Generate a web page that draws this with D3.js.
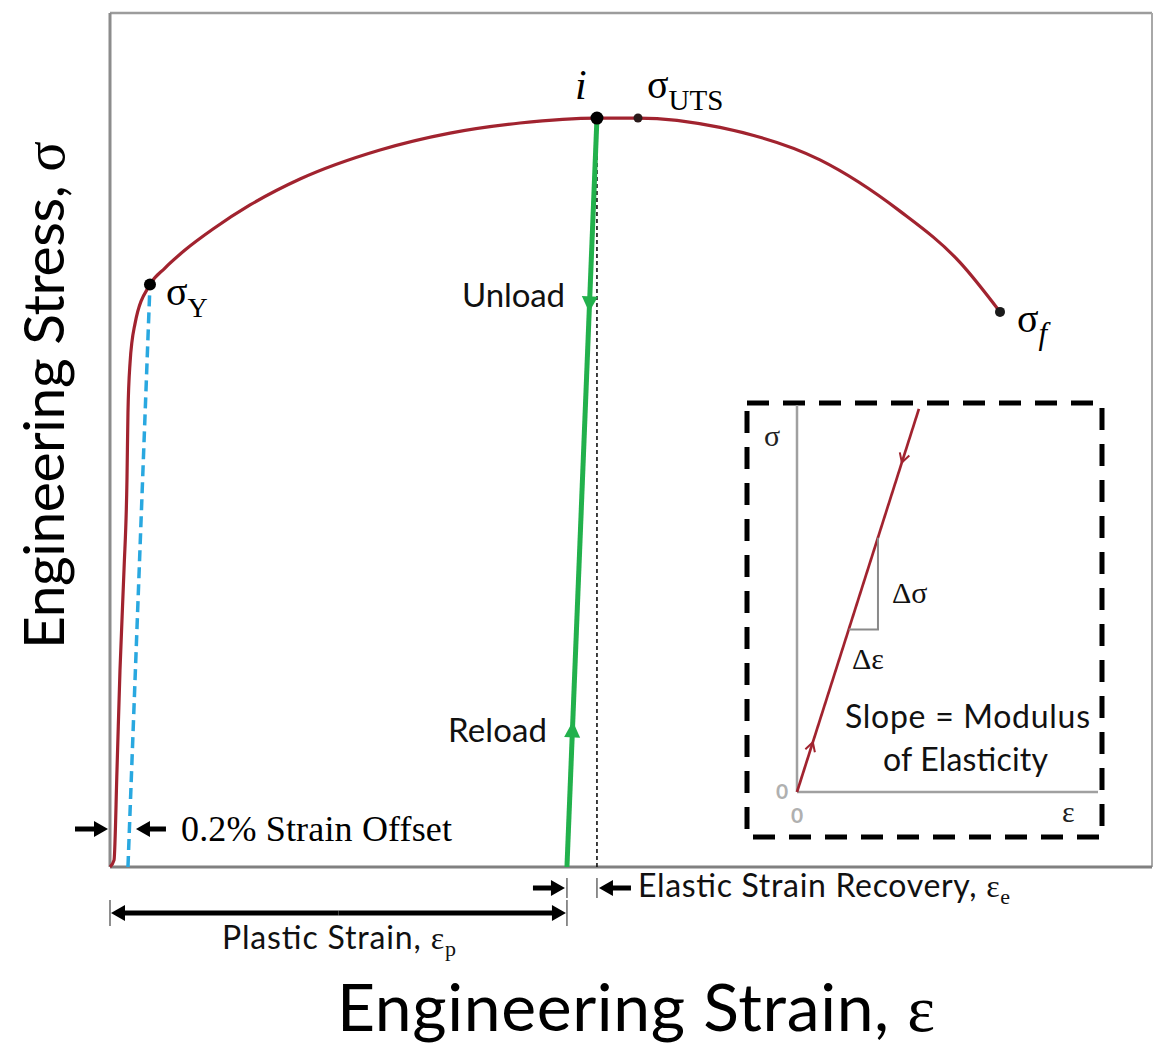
<!DOCTYPE html>
<html>
<head>
<meta charset="utf-8">
<script src="https://cdn.jsdelivr.net/npm/d3@7"></script>
<style>
  body { margin: 0; background: #fff; }
  svg { display: block; }
</style>
</head>
<body>
<svg id="chart" width="1157" height="1046"></svg>
<script>
// ---- Engineering stress–strain curve (strain, stress in MPa) ----
const curveStrain = [0, 0.00045, 0.00078, 0.00111, 0.00156, 0.00189, 0.00200, 0.00223, 0.00278,
  0.00445, 0.00612, 0.00835, 0.01147, 0.01559, 0.02115, 0.03006, 0.03785, 0.04564, 0.05421,
  0.05878, 0.06791, 0.07904, 0.08794, 0.09462, 0.09908];
const curveStress = [0, 4, 57, 115, 174, 227, 266, 295, 318,
  341, 350.7, 361.2, 373.5, 387.6, 402.8, 419.8, 429.7, 435.6, 438.5,
  438.5, 433, 414, 384, 354, 325];

// Key points on the curve
const yieldStrain = 0.00445, yieldStress = 341;
const unloadStrain = 0.05421, unloadStress = 438.5;
const utsStrain = 0.05878, utsStress = 438.5;
const fractureStrain = 0.09908, fractureStress = 325;

// Offset line, unloading path and strain split
const offsetStrain = 0.002;          // 0.2 % offset
const plasticStrain = 0.05087;       // permanent strain after unloading
const unloadArrowStress = 330;
const reloadArrowStress = 80;

// Inset: linear-elastic region (normalised units)
const insetStrain = [0, 0.405];
const insetStress = [0, 0.99];
const riseStrain = [0.172, 0.269];
const riseStress = [0.42, 0.657];
const insetArrowAt = [0.13, 0.86];   // fraction along the inset line

// ---- Scales ----
const x = d3.scaleLinear().domain([0, 0.116]).range([110, 1152]);
const y = d3.scaleLinear().domain([0, 500]).range([867, 13]);

const ix = d3.scaleLinear().domain([0, 1]).range([797, 1098]);
const iy = d3.scaleLinear().domain([0, 1]).range([792, 405]);

const svg = d3.select("#chart");

const RED = "#a1232f", GREEN = "#22b14c", BLUE = "#29a8e0";
const SANS = "Lato, 'Open Sans', sans-serif";
const SERIF = "'Liberation Serif', 'DejaVu Serif', serif";

// ---- Frame ----
const frame = svg.append("g").attr("fill", "none");
frame.append("line").attr("x1", x(0)).attr("x2", x(0.116)).attr("y1", y(500)).attr("y2", y(500))
  .attr("stroke", "#9c9c9c").attr("stroke-width", 2.5);
frame.append("line").attr("x1", x(0.116)).attr("x2", x(0.116)).attr("y1", y(500)).attr("y2", y(0))
  .attr("stroke", "#a8a8a8").attr("stroke-width", 2);
frame.append("line").attr("x1", x(0)).attr("x2", x(0)).attr("y1", y(500)).attr("y2", y(0))
  .attr("stroke", "#8c8c8c").attr("stroke-width", 3);
frame.append("line").attr("x1", x(0)).attr("x2", x(0.116)).attr("y1", y(0)).attr("y2", y(0))
  .attr("stroke", "#808080").attr("stroke-width", 3);

// ---- Offset line ----
svg.append("line")
  .attr("x1", x(offsetStrain)).attr("y1", y(0))
  .attr("x2", x(yieldStrain)).attr("y2", y(yieldStress))
  .attr("stroke", BLUE).attr("stroke-width", 3.5).attr("stroke-dasharray", "11,6");

// ---- Elastic recovery reference (dotted) ----
svg.append("line")
  .attr("x1", x(unloadStrain)).attr("y1", y(0))
  .attr("x2", x(unloadStrain)).attr("y2", y(unloadStress))
  .attr("stroke", "#111").attr("stroke-width", 1.6).attr("stroke-dasharray", "4,3");

// ---- Stress–strain curve ----
const curvePts = curveStrain.map((s, k) => [s, curveStress[k]]);
svg.append("path")
  .datum(curvePts)
  .attr("fill", "none").attr("stroke", RED).attr("stroke-width", 3.2)
  .attr("d", d3.line().x(d => x(d[0])).y(d => y(d[1])).curve(d3.curveMonotoneX));

// ---- Unload / reload path ----
svg.append("line")
  .attr("x1", x(plasticStrain)).attr("y1", y(0))
  .attr("x2", x(unloadStrain)).attr("y2", y(unloadStress))
  .attr("stroke", GREEN).attr("stroke-width", 5);

const greenAngle = Math.atan2(y(unloadStress) - y(0), x(unloadStrain) - x(plasticStrain)) * 180 / Math.PI;
function strainOnUnload(s) { return plasticStrain + (unloadStrain - plasticStrain) * s / unloadStress; }
function greenHead(stress, pointsUp) {
  const rot = pointsUp ? greenAngle : greenAngle + 180;
  svg.append("path")
    .attr("d", "M9,0 L-7,-8 L-7,8 Z")
    .attr("fill", GREEN)
    .attr("transform", `translate(${x(strainOnUnload(stress))},${y(stress)}) rotate(${rot})`);
}
greenHead(unloadArrowStress, false);
greenHead(reloadArrowStress, true);

// ---- Points ----
const dots = [
  [yieldStrain, yieldStress, 6, "#000"],
  [unloadStrain, unloadStress, 6.5, "#000"],
  [utsStrain, utsStress, 4.5, "#2a1a1a"],
  [fractureStrain, fractureStress, 5, "#1a1a1a"]
];
svg.selectAll("circle.pt").data(dots).join("circle").attr("class", "pt")
  .attr("cx", d => x(d[0])).attr("cy", d => y(d[1])).attr("r", d => d[2]).attr("fill", d => d[3]);

// ---- Point labels ----
function symbolLabel(px, py, main, sub, subItalic, size, subSize) {
  const t = svg.append("text").attr("x", px).attr("y", py)
    .attr("font-family", SERIF).attr("font-size", size).attr("fill", "#000");
  t.append("tspan").text(main);
  t.append("tspan").attr("dy", size * 0.3).attr("font-size", subSize)
    .attr("font-style", subItalic ? "italic" : "normal").text(sub);
  return t;
}
symbolLabel(x(yieldStrain) + 16, y(yieldStress) + 20, "σ", "Y", false, 40, 28);
symbolLabel(x(utsStrain) + 9, y(utsStress) - 20, "σ", "UTS", false, 40, 29);
symbolLabel(x(fractureStrain) + 17, y(fractureStress) + 20, "σ", "f", true, 40, 31);
svg.append("text").attr("x", x(unloadStrain) - 22).attr("y", y(unloadStress) - 19)
  .attr("font-family", SERIF).attr("font-style", "italic").attr("font-size", 42).text("i");

svg.append("text").attr("x", 462).attr("y", 307).attr("textLength", 103)
  .attr("font-family", SANS).attr("font-size", 33).attr("fill", "#111").text("Unload");
svg.append("text").attr("x", 448).attr("y", 742).attr("textLength", 99)
  .attr("font-family", SANS).attr("font-size", 33).attr("fill", "#111").text("Reload");

// ---- Dimension arrows ----
function arrow(xTail, xTip, yy) {
  const dir = Math.sign(xTip - xTail);
  const head = 14, hw = 8, sw = 2.6;
  const xb = xTip - dir * head;
  const d = `M${xTail},${yy - sw} L${xb},${yy - sw} L${xb},${yy - hw} L${xTip},${yy} ` +
            `L${xb},${yy + hw} L${xb},${yy + sw} L${xTail},${yy + sw} Z`;
  svg.append("path").attr("d", d).attr("fill", "#000");
}
function tick(xx, y1, y2) {
  svg.append("line").attr("x1", xx).attr("x2", xx).attr("y1", y1).attr("y2", y2)
    .attr("stroke", "#444").attr("stroke-width", 1.2);
}

// 0.2 % offset
arrow(x(0) - 35, x(0) - 2, 829);
arrow(x(offsetStrain) + 38, x(offsetStrain) + 8, 829);
svg.append("text").attr("x", 181).attr("y", 841).attr("textLength", 271)
  .attr("font-family", SERIF).attr("font-size", 36).attr("fill", "#000").text("0.2% Strain Offset");

// Plastic strain
const pY = 913;
arrow((x(0) + x(plasticStrain)) / 2, x(0) + 1, pY);
arrow((x(0) + x(plasticStrain)) / 2, x(plasticStrain) - 1, pY);
tick(x(0), pY - 13, pY + 13);
tick(x(plasticStrain), pY - 13, pY + 13);
const pt = svg.append("text").attr("x", 222).attr("y", 949).attr("textLength", 234)
  .attr("font-family", SANS).attr("font-size", 32).attr("fill", "#111");
pt.append("tspan").text("Plastic Strain, ");
pt.append("tspan").attr("font-family", SERIF).text("ε");
pt.append("tspan").attr("font-family", SERIF).attr("font-size", 22).attr("dy", 7).text("p");

// Elastic strain recovery
const eY = 888;
arrow(x(plasticStrain) - 34, x(plasticStrain) - 2, eY);
tick(x(plasticStrain), eY - 10, eY + 10);
arrow(x(unloadStrain) + 34, x(unloadStrain) + 2, eY);
tick(x(unloadStrain), eY - 10, eY + 10);
const et = svg.append("text").attr("x", 638).attr("y", 897).attr("textLength", 372)
  .attr("font-family", SANS).attr("font-size", 32).attr("fill", "#111");
et.append("tspan").text("Elastic Strain Recovery, ");
et.append("tspan").attr("font-family", SERIF).text("ε");
et.append("tspan").attr("font-family", SERIF).attr("font-size", 22).attr("dy", 7).text("e");

// ---- Axis titles ----
const xt = svg.append("text").attr("x", 337).attr("y", 1031).attr("textLength", 598)
  .attr("font-family", SANS).attr("font-size", 66).attr("fill", "#000");
xt.append("tspan").text("Engineering Strain, ");
xt.append("tspan").attr("font-family", SERIF).text("ε");

const yt = svg.append("text").attr("transform", "translate(64,649) rotate(-90)").attr("textLength", 508)
  .attr("font-family", SANS).attr("font-size", 57).attr("fill", "#000");
yt.append("tspan").text("Engineering Stress, ");
yt.append("tspan").attr("font-family", SERIF).text("σ");

// ---- Inset ----
const inset = svg.append("g");
inset.append("rect").attr("x", 747).attr("y", 403).attr("width", 355).attr("height", 434)
  .attr("fill", "none").attr("stroke", "#000").attr("stroke-width", 5).attr("stroke-dasharray", "22,14");

inset.append("line").attr("x1", ix(0)).attr("x2", ix(0)).attr("y1", iy(0)).attr("y2", iy(1))
  .attr("stroke", "#a0a0a0").attr("stroke-width", 2.5);
inset.append("line").attr("x1", ix(0)).attr("x2", ix(1)).attr("y1", iy(0)).attr("y2", iy(0))
  .attr("stroke", "#a0a0a0").attr("stroke-width", 2.5);

inset.append("line")
  .attr("x1", ix(insetStrain[0])).attr("y1", iy(insetStress[0]))
  .attr("x2", ix(insetStrain[1])).attr("y2", iy(insetStress[1]))
  .attr("stroke", RED).attr("stroke-width", 2.7);

// slope triangle
inset.append("path")
  .attr("d", `M${ix(riseStrain[0])},${iy(riseStress[0])} L${ix(riseStrain[1])},${iy(riseStress[0])} L${ix(riseStrain[1])},${iy(riseStress[1])}`)
  .attr("fill", "none").attr("stroke", "#8a8a8a").attr("stroke-width", 2);

// direction chevrons on the inset line
const insetAngle = Math.atan2(iy(insetStress[1]) - iy(0), ix(insetStrain[1]) - ix(0)) * 180 / Math.PI;
insetArrowAt.forEach((f, k) => {
  const px = ix(insetStrain[1] * f), py = iy(insetStress[1] * f);
  const rot = k === 0 ? insetAngle : insetAngle + 180;
  inset.append("path").attr("d", "M0,0 L-9,-5 M0,0 L-9,5")
    .attr("fill", "none").attr("stroke", RED).attr("stroke-width", 2)
    .attr("transform", `translate(${px},${py}) rotate(${rot})`);
});

inset.append("text").attr("x", 764).attr("y", 446).attr("font-family", SERIF).attr("font-size", 30)
  .attr("fill", "#222").text("σ");
inset.append("text").attr("x", 1062).attr("y", 822).attr("font-family", SERIF).attr("font-size", 30)
  .attr("fill", "#222").text("ε");
inset.append("text").attr("x", 776).attr("y", 799).attr("font-family", SANS).attr("font-size", 21)
  .attr("fill", "#b0b0b0").attr("font-weight", "bold").text("0");
inset.append("text").attr("x", 791).attr("y", 823).attr("font-family", SANS).attr("font-size", 21)
  .attr("fill", "#b0b0b0").attr("font-weight", "bold").text("0");
inset.append("text").attr("x", ix(riseStrain[1]) + 14).attr("y", 603).attr("font-family", SERIF)
  .attr("font-size", 30).attr("fill", "#111").text("Δσ");
inset.append("text").attr("x", 852).attr("y", 669).attr("font-family", SERIF)
  .attr("font-size", 30).attr("fill", "#111").text("Δε");
inset.append("text").attr("x", 845).attr("y", 728).attr("textLength", 245).attr("font-family", SANS)
  .attr("font-size", 32).attr("fill", "#111").text("Slope = Modulus");
inset.append("text").attr("x", 883).attr("y", 771).attr("textLength", 165).attr("font-family", SANS)
  .attr("font-size", 32).attr("fill", "#111").text("of Elasticity");
</script>
</body>
</html>
